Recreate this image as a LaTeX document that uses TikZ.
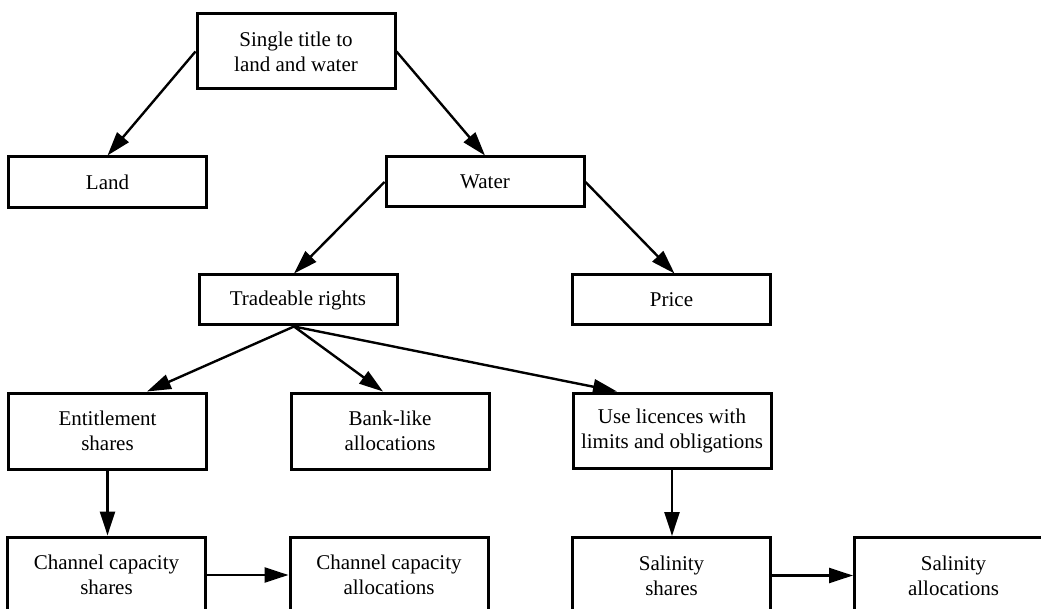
\documentclass[tikz,border=0pt]{standalone}
\usepackage{fontspec}
\setmainfont{Liberation Serif}
\usetikzlibrary{arrows.meta,calc}
\begin{document}
\begin{tikzpicture}[x=1pt,y=-1pt,
  box/.style={draw,line width=3pt,rectangle,inner sep=0pt,align=center,
    font=\fontsize{21}{25}\selectfont,minimum width=198,minimum height=#1},
  box/.default=50,
  conn/.style={line width=2.4pt,-{Triangle[length=24pt,width=15pt]}}]
\useasboundingbox (0,0) rectangle (1041,609);
\clip (0,0) rectangle (1041,609);
\node[box=75] (top) at (296,51.5) {Single title to\\land and water};
\node[box=51] (land) at (107.5,182.5) {Land};
\node[box=50] (water) at (485,182) {Water};
\node[box=50] (trade) at (298,300) {Tradeable rights};
\node[box=50] (price) at (671.5,300) {Price};
\node[box=76] (ent) at (107.5,431) {Entitlement\\shares};
\node[box=76] (bank) at (390,431) {Bank-like\\allocations};
\node[box=75] (use) at (672,430.5) {Use licences with\\limits and obligations};
\node[box=76] (chs) at (106.5,575) {Channel capacity\\shares};
\node[box=76] (cha) at (389,575) {Channel capacity\\allocations};
\node[box=76] (sals) at (671.5,575.5) {Salinity\\shares};
\node[box=76] (sala) at (953.5,575.5) {Salinity\\allocations};
\draw[conn] (top.west) -- (land.north);
\draw[conn] (top.east) -- (water.north);
\draw[conn] (water.west) -- ($(trade.north)+(-4,0)$);
\draw[conn] (water.east) -- ($(price.north)+(3,0)$);
\draw[conn] ($(trade.south)+(-4,0)$) -- ($(ent.north)+(39.5,0)$);
\draw[conn] ($(trade.south)+(-4,0)$) -- ($(bank.north)+(-7,0)$);
\draw[conn] ($(trade.south)+(-4,0)$) -- ($(use.north)+(-55,0)$);
\draw[conn] (ent.south) -- (ent.south |- chs.north);
\draw[conn] (use.south) -- (use.south |- sals.north);
\draw[conn] (chs.east) -- (chs.east -| cha.west);
\draw[conn] (sals.east) -- (sals.east -| sala.west);
\end{tikzpicture}
\end{document}
